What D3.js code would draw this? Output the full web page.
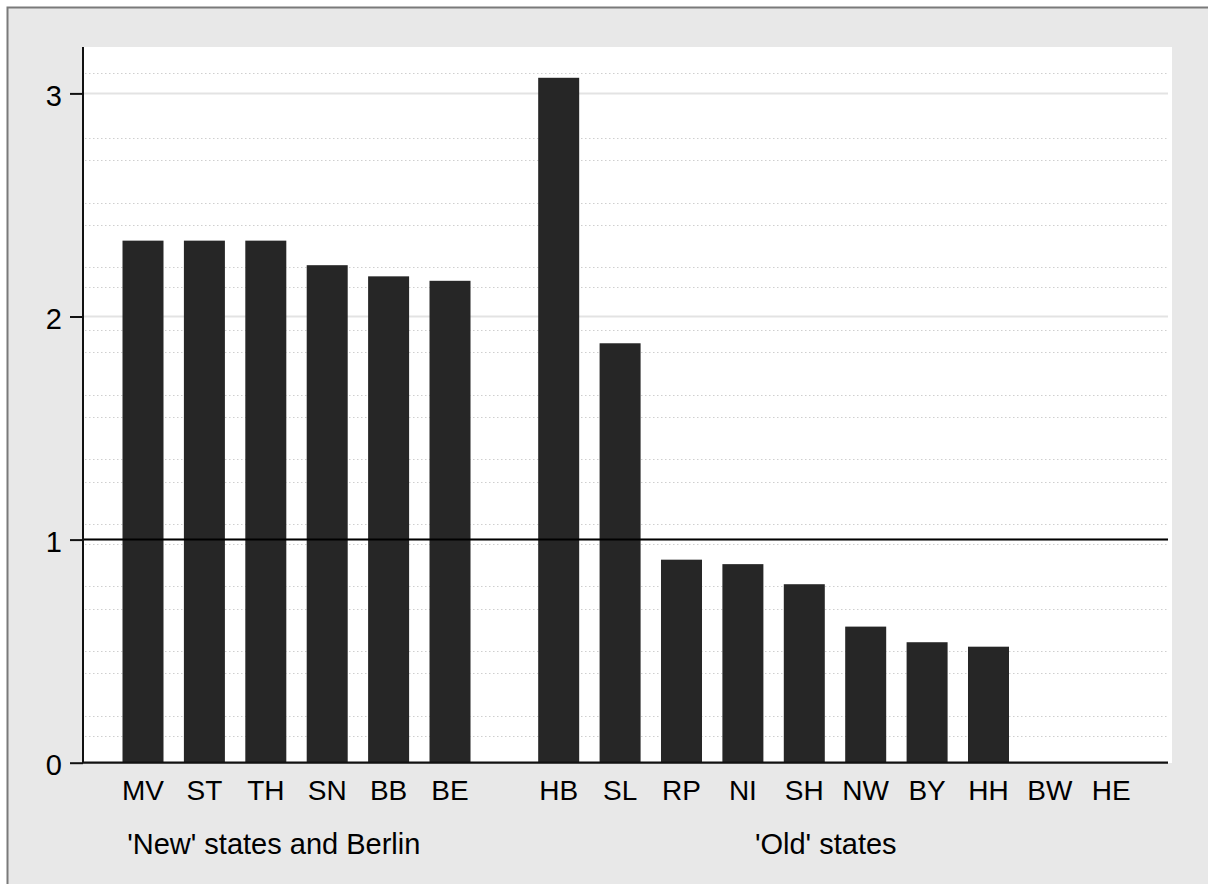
<!DOCTYPE html>
<html>
<head>
<meta charset="utf-8">
<script src="https://cdn.jsdelivr.net/npm/d3@7"></script>
<style>
  body { margin: 0; background: #ffffff; }
  svg { display: block; font-family: "Liberation Sans", Arial, sans-serif; }
</style>
</head>
<body>
<div id="chart"></div>
<script>
// data
const newStates = ["MV", "ST", "TH", "SN", "BB", "BE"];
const newValues = [2.34, 2.34, 2.34, 2.23, 2.18, 2.16];
const oldStates = ["HB", "SL", "RP", "NI", "SH", "NW", "BY", "HH", "BW", "HE"];
const oldValues = [3.07, 1.88, 0.91, 0.89, 0.80, 0.61, 0.54, 0.52, 0, 0];
const groupNames = ["'New' states and Berlin", "'Old' states"];
const yTicks = [0, 1, 2, 3];
const minorGrid = [0.12, 0.21, 0.40, 0.50, 0.69, 0.79, 0.98, 1.07, 1.26, 1.36, 1.55, 1.65,
                   1.84, 1.94, 2.13, 2.22, 2.41, 2.51, 2.70, 2.80, 3.09];
const refLine = 1;

//**********************************************************************
//                       CONSTANTS FOR CHART SIZE
//**********************************************************************
const WIDTH = 1208, HEIGHT = 884;
const PLOT_LEFT = 83, PLOT_RIGHT = 1168, PLOT_TOP = 47, PLOT_BOTTOM = 763;
const SLOT_GAP = 0.77;       // extra slots between the two groups
const BAR_WIDTH = 41;
const BAR_COLOR = "#262626";
const FONT_SIZE = 28;

// flatten into one table, with a slot position for each bar
let bars = [];
newStates.forEach((s, i) => bars.push({ state: s, value: newValues[i], slot: i }));
oldStates.forEach((s, i) => bars.push({ state: s, value: oldValues[i], slot: newStates.length + SLOT_GAP + i }));
const lastSlot = d3.max(bars, d => d.slot);

const x = d3.scaleLinear().domain([0, lastSlot]).range([143, 1111.3]);
const y = d3.scaleLinear().domain([0, 3]).range([PLOT_BOTTOM - 0.3, 93.4]);

// group labels sit slightly left of each group's middle
const groupLabelSlots = [2.13, newStates.length + SLOT_GAP + 4.35];

const svg = d3.select("#chart").append("svg")
  .attr("width", WIDTH)
  .attr("height", HEIGHT);

// outer graph region
svg.append("rect")
  .attr("x", 7).attr("y", 7)
  .attr("width", WIDTH - 7).attr("height", HEIGHT - 7)
  .attr("fill", "#e8e8e8");
svg.append("path")
  .attr("d", `M7.5,${HEIGHT} V7.5 H${WIDTH}`)
  .attr("fill", "none")
  .attr("stroke", "#7a7a7a")
  .attr("stroke-width", 2);

// plot region
svg.append("rect")
  .attr("x", PLOT_LEFT).attr("y", PLOT_TOP)
  .attr("width", PLOT_RIGHT + 4 - PLOT_LEFT).attr("height", PLOT_BOTTOM - PLOT_TOP)
  .attr("fill", "#ffffff");

// minor dotted grid
svg.append("g").selectAll("line")
  .data(minorGrid)
  .join("line")
  .attr("x1", PLOT_LEFT + 2).attr("x2", PLOT_RIGHT)
  .attr("y1", d => Math.round(y(d)) + 0.5)
  .attr("y2", d => Math.round(y(d)) + 0.5)
  .attr("stroke", "#cfcfcf")
  .attr("stroke-width", 1)
  .attr("stroke-dasharray", "1.5,2.5");

// major grid
svg.append("g").selectAll("line")
  .data(yTicks.filter(d => d > 0))
  .join("line")
  .attr("x1", PLOT_LEFT).attr("x2", PLOT_RIGHT)
  .attr("y1", d => y(d)).attr("y2", d => y(d))
  .attr("stroke", "#e3e3e3")
  .attr("stroke-width", 2);

// bars
svg.append("g").selectAll("rect")
  .data(bars.filter(d => d.value > 0))
  .join("rect")
  .attr("x", d => x(d.slot) - BAR_WIDTH / 2)
  .attr("y", d => y(d.value))
  .attr("width", BAR_WIDTH)
  .attr("height", d => y(0) - y(d.value))
  .attr("fill", BAR_COLOR);

// reference line at 1
svg.append("line")
  .attr("x1", PLOT_LEFT).attr("x2", PLOT_RIGHT)
  .attr("y1", y(refLine)).attr("y2", y(refLine))
  .attr("stroke", "#000")
  .attr("stroke-width", 2);

// baseline
svg.append("line")
  .attr("x1", PLOT_LEFT).attr("x2", PLOT_RIGHT)
  .attr("y1", y(0)).attr("y2", y(0))
  .attr("stroke", "#111")
  .attr("stroke-width", 2.2);

// y axis
const yAxis = svg.append("g")
  .attr("transform", `translate(${PLOT_LEFT},0)`)
  .call(d3.axisLeft(y).tickValues(yTicks).tickSize(13).tickPadding(8).tickFormat(d3.format("d")));
yAxis.select(".domain")
  .attr("d", `M0,${PLOT_TOP}V${PLOT_BOTTOM}`)
  .attr("stroke", "#111")
  .attr("stroke-width", 2);
yAxis.selectAll(".tick line").attr("stroke", "#111").attr("stroke-width", 2);
yAxis.selectAll(".tick text")
  .attr("fill", "#000")
  .attr("dy", "0.42em")
  .style("font-size", "29px")
  .style("font-family", "'Liberation Sans', Arial, sans-serif");

// x labels
svg.append("g").selectAll("text")
  .data(bars)
  .join("text")
  .attr("x", d => x(d.slot))
  .attr("y", 800)
  .attr("text-anchor", "middle")
  .style("font-size", FONT_SIZE + "px")
  .text(d => d.state);

// group labels
svg.append("g").selectAll("text")
  .data(groupNames)
  .join("text")
  .attr("x", (d, i) => x(groupLabelSlots[i]))
  .attr("y", 854)
  .attr("text-anchor", "middle")
  .style("font-size", "29px")
  .text(d => d);
</script>
</body>
</html>
